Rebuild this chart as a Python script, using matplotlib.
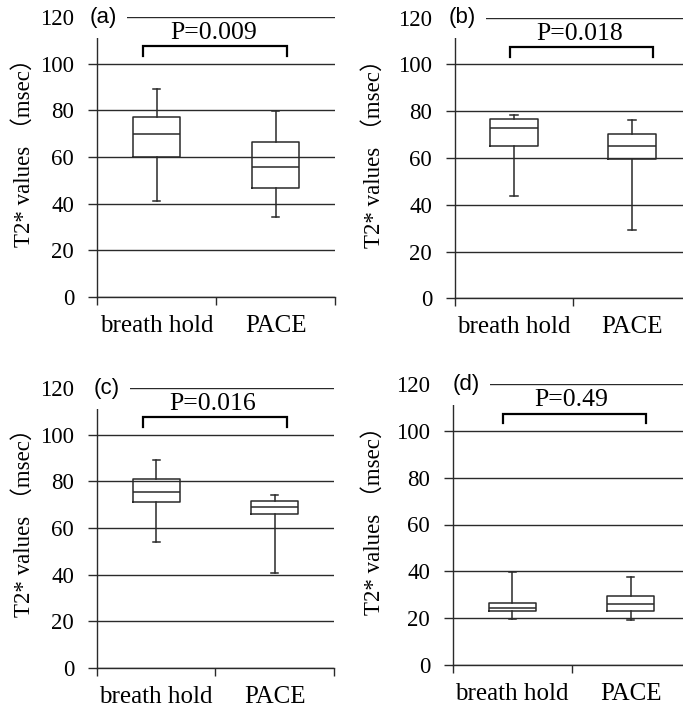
import matplotlib
matplotlib.use("Agg")
import matplotlib.pyplot as plt

# ---------------- data ----------------
categories = ["breath hold", "PACE"]
panel_labels = ["(a)", "(b)", "(c)", "(d)"]
p_texts = ["P=0.009", "P=0.018", "P=0.016", "P=0.49"]

# box statistics per panel: [whislo, q1, median, q3, whishi]
a_bh = [41.0, 60.2, 69.8, 77.3, 89.0]
a_pace = [34.4, 46.9, 55.8, 66.5, 79.6]
b_bh = [43.6, 65.3, 73.0, 76.6, 78.4]
b_pace = [29.2, 59.7, 65.3, 70.1, 76.3]
c_bh = [54.1, 71.3, 75.3, 80.9, 89.4]
c_pace = [40.8, 65.9, 68.9, 71.5, 74.2]
d_bh = [19.5, 23.0, 24.4, 26.3, 39.7]
d_pace = [19.3, 23.0, 25.8, 29.5, 37.5]

panel_data = [(a_bh, a_pace), (b_bh, b_pace), (c_bh, c_pace), (d_bh, d_pace)]

y_ticks = [0, 20, 40, 60, 80, 100, 120]

# bracket geometry (data units)
bracket_x = [(0.89, 2.10), (0.97, 2.18), (0.89, 2.10), (0.92, 2.13)]
bracket_top = 107.5
bracket_end = 103.3
ptext_x = [1.48, 1.56, 1.48, 1.50]
label_x = [0.555, 0.56, 0.585, 0.61]

# axes placement in pixels: left, right(x=2.5), y of 0, y of 120
ax_px = [(97, 335, 297, 17), (455, 691, 298.3, 17.7),
         (97, 334, 667.7, 388.3), (453, 690, 664.7, 384.3)]
ylab_px = [(24, 147), (374, 148), (24, 517), (374, 515)]

W, H = 683, 711
fig = plt.figure(figsize=(W / 100, H / 100), dpi=100)
fig.patch.set_facecolor("white")

serif = ["Liberation Serif", "Noto Sans CJK JP"]
line_c = "#2a2a2a"

for i, (bh, pace) in enumerate(panel_data):
    L, R, y0, y120 = ax_px[i]
    ax = fig.add_axes([L / W, 1 - y0 / H, (R - L) / W, (y0 - y120) / H])
    ax.set_xlim(0.5, 2.5)
    ax.set_ylim(0, 120)
    for s in ["top", "right"]:
        ax.spines[s].set_visible(False)
    for s in ["left", "bottom"]:
        ax.spines[s].set_color(line_c)
        ax.spines[s].set_linewidth(1.0)

    stats = []
    for cat, v in zip(categories, (bh, pace)):
        stats.append(dict(label=cat, whislo=v[0], q1=v[1], med=v[2], q3=v[3],
                          whishi=v[4], fliers=[]))
    lp = dict(color=line_c, linewidth=1.1)
    ax.bxp(stats, positions=[1, 2], widths=0.4, capwidths=0.06,
           showfliers=False, boxprops=lp, whiskerprops=lp, capprops=lp,
           medianprops=lp, manage_ticks=False, zorder=3)

    ax.set_yticks(y_ticks)
    ax.set_yticklabels([str(t) for t in y_ticks], fontfamily=serif, fontsize=16.5)
    ax.tick_params(axis="y", direction="out", length=6.5, width=1.0,
                   color=line_c, pad=10)
    ax.yaxis.grid(True, color=line_c, linewidth=1.0)
    ax.set_axisbelow(True)

    ax.set_xticks([0.5, 1.5, 2.5])
    ax.set_xticklabels(["", "", ""])
    ax.tick_params(axis="x", which="major", direction="out", length=6,
                   width=1.0, color=line_c)
    ax.set_xticks([1, 2], minor=True)
    ax.set_xticklabels(categories, minor=True, fontfamily=serif, fontsize=18)
    ax.tick_params(axis="x", which="minor", length=0, pad=13)

    # panel label with white box covering start of top gridline
    ax.text(label_x[i], 120, panel_labels[i], fontfamily="Liberation Sans",
            fontsize=16, ha="center", va="center", zorder=10, clip_on=False,
            bbox=dict(boxstyle="square,pad=0.45", facecolor="white",
                      edgecolor="none"))

    # significance bracket
    x1, x2 = bracket_x[i]
    ax.plot([x1, x1, x2, x2], [bracket_end, bracket_top, bracket_top, bracket_end],
            color="black", linewidth=1.6, solid_joinstyle="miter",
            clip_on=False, zorder=6)
    ax.text(ptext_x[i], bracket_top + 1.0, p_texts[i], fontfamily=serif,
            fontsize=18.5, ha="center", va="bottom", zorder=6)

    lx, ly = ylab_px[i]
    fig.text(lx / W, 1 - ly / H, "T2* values （msec）", fontfamily=serif,
             fontsize=16.5, rotation=90, ha="center", va="center",
             rotation_mode="anchor")

fig.savefig("out.png", dpi=100, facecolor="white")
